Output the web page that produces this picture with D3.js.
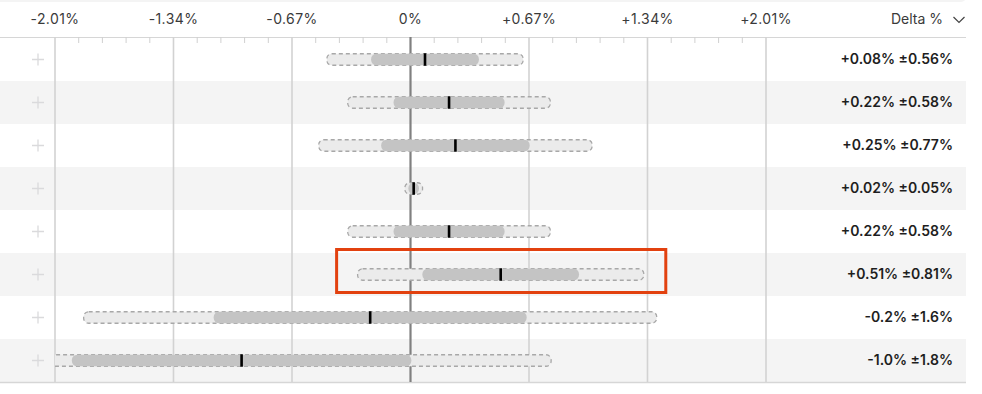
<!DOCTYPE html>
<html>
<head>
<meta charset="utf-8">
<script src="https://cdn.jsdelivr.net/npm/d3@7/dist/d3.min.js"></script>
<style>
  html, body { margin: 0; padding: 0; background: #fff; }
  svg { display: block; font-family: Inter, "Noto Sans", sans-serif; }
</style>
</head>
<body>
<div id="chart"></div>
<script>
// values (percent)
const means     = [0.082, 0.218, 0.254, 0.018, 0.218, 0.51, -0.228, -0.955];
const ciHalf    = [0.555, 0.573, 0.773, 0.05, 0.573, 0.809, 1.62, 1.75];
const innerHalf = [0.305, 0.314, 0.42, 0.03, 0.314, 0.443, 0.885, 0.96];
const labels    = ["+0.08% ±0.56%", "+0.22% ±0.58%", "+0.25% ±0.77%", "+0.02% ±0.05%",
                   "+0.22% ±0.58%", "+0.51% ±0.81%", "-0.2% ±1.6%", "-1.0% ±1.8%"];
const tickValues = [-2.01, -1.34, -0.67, 0, 0.67, 1.34, 2.01];
const tickLabels = ["-2.01%", "-1.34%", "-0.67%", "0%", "+0.67%", "+1.34%", "+2.01%"];
const highlighted = 5;

(function() {
  const width = 982, height = 394;
  const headerY = 37, rowH = 43, rowTop0 = 38, tableRight = 966;
  const barH = 11.5;

  const svg = d3.select("#chart").append("svg")
    .attr("width", width)
    .attr("height", height);

  const x = d3.scaleLinear().domain([-2.01, 2.01]).range([55, 766]);
  const rowIdx = d3.range(means.length);
  const y = d3.scaleBand().domain(rowIdx).range([rowTop0, rowTop0 + rowH * means.length]);

  // top strip of page background
  svg.append("rect")
    .attr("x", -10).attr("y", -8).attr("width", tableRight + 10).attr("height", 10)
    .attr("rx", 5).attr("fill", "#f4f4f4");

  // zebra rows
  svg.append("g").selectAll("rect")
    .data(rowIdx)
    .join("rect")
    .attr("x", 0)
    .attr("y", d => y(d))
    .attr("width", tableRight)
    .attr("height", y.bandwidth())
    .attr("fill", d => d % 2 ? "#f4f4f4" : "#fff");

  // header line + bottom line
  svg.append("line")
    .attr("x1", 0).attr("x2", tableRight)
    .attr("y1", headerY + 0.5).attr("y2", headerY + 0.5)
    .attr("stroke", "#d6d6d6");
  svg.append("line")
    .attr("x1", 0).attr("x2", tableRight)
    .attr("y1", y.range()[1] + 0.5).attr("y2", y.range()[1] + 0.5)
    .attr("stroke", "#d6d6d6").attr("stroke-width", 1.5);

  // minor ticks
  const minor = d3.range(-2.01, 2.02, 0.134).filter(v => !tickValues.some(t => Math.abs(t - v) < 0.01));
  svg.append("g").selectAll("line")
    .data(minor)
    .join("line")
    .attr("x1", d => x(d)).attr("x2", d => x(d))
    .attr("y1", headerY).attr("y2", headerY + 6)
    .attr("stroke", "#d0d0d0").attr("stroke-width", 1);

  // major grid
  svg.append("g").selectAll("line")
    .data(tickValues)
    .join("line")
    .attr("x1", d => x(d)).attr("x2", d => x(d))
    .attr("y1", headerY).attr("y2", y.range()[1])
    .attr("stroke", d => d === 0 ? "#808080" : "#d2d2d2")
    .attr("stroke-width", d => d === 0 ? 2.2 : 1.6);

  // tick labels
  svg.append("g").selectAll("text")
    .data(tickValues)
    .join("text")
    .attr("x", d => x(d))
    .attr("y", 19)
    .attr("dy", "0.35em")
    .attr("text-anchor", "middle")
    .style("font-size", "14px")
    .style("letter-spacing", "0.4px")
    .style("fill", "#3a3a3a")
    .text((d, i) => tickLabels[i]);

  // header title + chevron
  svg.append("text")
    .attr("x", 943).attr("y", 19).attr("dy", "0.35em")
    .attr("text-anchor", "end")
    .style("font-size", "14px")
    .style("fill", "#3a3a3a")
    .text("Delta %");
  svg.append("path")
    .attr("d", "M953.5,17 L959,22.5 L964.5,17")
    .attr("fill", "none").attr("stroke", "#444").attr("stroke-width", 1.2);

  // plus icons
  const plus = svg.append("g").selectAll("g")
    .data(rowIdx)
    .join("g")
    .attr("transform", d => `translate(38, ${y(d) + y.bandwidth() / 2})`);
  plus.append("path")
    .attr("d", "M-6,0 H6 M0,-6 V6")
    .attr("stroke", "#dadadc").attr("stroke-width", 1.3);

  // bars, clipped to the axis range
  svg.append("clipPath").attr("id", "plotclip")
    .append("rect")
    .attr("x", x(-2.01)).attr("y", 0)
    .attr("width", x(2.01) - x(-2.01) + 200).attr("height", height);

  const bars = svg.append("g").attr("clip-path", "url(#plotclip)")
    .selectAll("g")
    .data(rowIdx)
    .join("g")
    .attr("transform", d => `translate(0, ${y(d) + y.bandwidth() / 2})`);

  bars.append("rect")
    .attr("x", d => x(means[d] - ciHalf[d]))
    .attr("y", -barH / 2)
    .attr("width", d => x(means[d] + ciHalf[d]) - x(means[d] - ciHalf[d]))
    .attr("height", barH)
    .attr("rx", 5)
    .attr("fill", "#ebebeb")
    .attr("stroke", "#a8a8a8")
    .attr("stroke-width", 1.3)
    .attr("stroke-dasharray", "4,3");

  bars.append("rect")
    .attr("x", d => x(means[d] - innerHalf[d]))
    .attr("y", -barH / 2)
    .attr("width", d => x(means[d] + innerHalf[d]) - x(means[d] - innerHalf[d]))
    .attr("height", barH)
    .attr("rx", 5.5)
    .attr("fill", "#c4c4c4");

  bars.append("rect")
    .attr("x", d => x(means[d]) - 1.3)
    .attr("y", -barH / 2 - 0.5)
    .attr("width", 2.6)
    .attr("height", barH + 1)
    .attr("fill", "#000");

  // value labels
  svg.append("g").selectAll("text")
    .data(rowIdx)
    .join("text")
    .attr("x", 953)
    .attr("y", d => y(d) + y.bandwidth() / 2)
    .attr("dy", "0.35em")
    .attr("text-anchor", "end")
    .style("font-size", "14px")
    .style("font-weight", 600)
    .style("fill", "#1e1e1e")
    .text(d => labels[d]);

  // highlight box
  const h = highlighted;
  svg.append("rect")
    .attr("x", x(means[h] - ciHalf[h]) - 21)
    .attr("y", y(h) - 3.5)
    .attr("width", x(means[h] + ciHalf[h]) - x(means[h] - ciHalf[h]) + 43)
    .attr("height", y.bandwidth())
    .attr("fill", "none")
    .attr("stroke", "#e2410f")
    .attr("stroke-width", 3);
})();
</script>
</body>
</html>
